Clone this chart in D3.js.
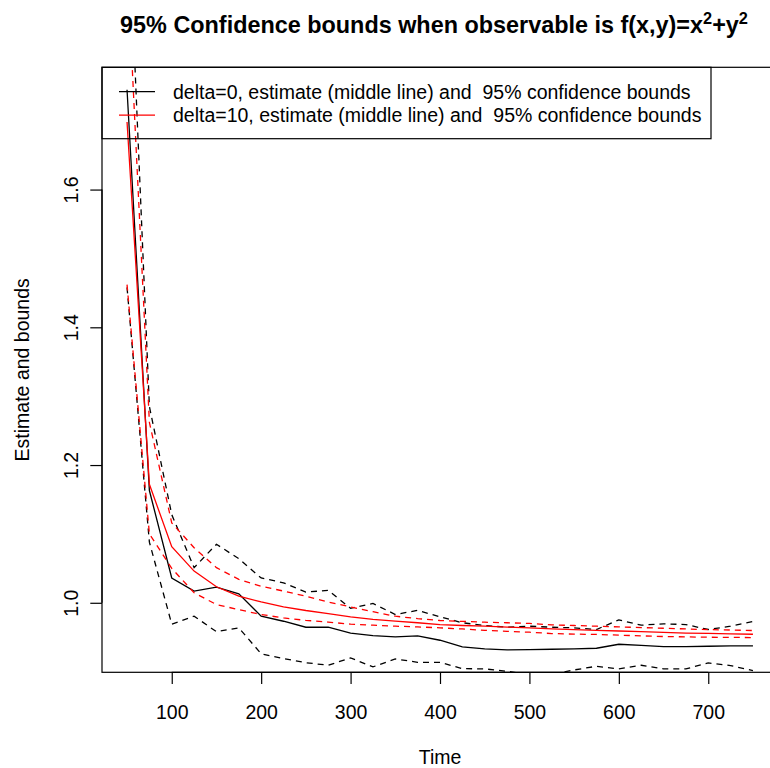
<!DOCTYPE html>
<html><head><meta charset="utf-8">
<script src="https://cdn.jsdelivr.net/npm/d3@7"></script>
<style>
body{margin:0;background:#fff}
svg{display:block}
text{font-family:"Liberation Sans",Arial,Helvetica,sans-serif;fill:#000}
</style>
</head><body>
<svg id="chart" width="770" height="768"></svg>
<script>
// ---- data ----
const times = [50,75,100,125,150,175,200,225,250,275,300,325,350,375,400,425,450,475,500,525,550,575,600,625,650,675,700,725,750];
const est0   = [1.745,1.163,1.036,1.017,1.0227,1.0131,0.9805,0.9732,0.9645,0.9645,0.9558,0.9524,0.9505,0.952,0.9456,0.936,0.9331,0.9316,0.932,0.9325,0.933,0.934,0.9398,0.9383,0.9364,0.9364,0.9369,0.9375,0.9375];
const upper0 = [2.05,1.285,1.128,1.051,1.085,1.064,1.036,1.029,1.0155,1.018,0.992,0.999,0.983,0.989,0.9796,0.971,0.967,0.9645,0.966,0.9645,0.9636,0.9612,0.9752,0.9675,0.9695,0.9684,0.9612,0.966,0.9728];
const lower0 = [1.458,1.088,0.969,0.9805,0.958,0.9636,0.926,0.919,0.913,0.9093,0.92,0.9069,0.9185,0.9136,0.9136,0.9044,0.904,0.9005,0.896,0.896,0.9025,0.9078,0.904,0.9093,0.904,0.904,0.9127,0.9088,0.9015];
const est10   = [1.698,1.172,1.0815,1.046,1.0233,1.0096,1.0012,0.9942,0.9888,0.9844,0.9796,0.976,0.9733,0.971,0.9684,0.967,0.966,0.9648,0.9636,0.962,0.961,0.960,0.959,0.958,0.957,0.956,0.9555,0.955,0.9543];
const upper10 = [1.933,1.262,1.116,1.080,1.051,1.034,1.024,1.017,1.0096,1.001,0.994,0.987,0.9805,0.977,0.9743,0.973,0.9718,0.971,0.970,0.968,0.967,0.966,0.965,0.964,0.963,0.962,0.961,0.9605,0.9597];
const lower10 = [1.462,1.10,1.05,1.0145,0.9975,0.990,0.983,0.978,0.9745,0.972,0.969,0.9675,0.966,0.965,0.9636,0.962,0.960,0.9585,0.9573,0.9553,0.9545,0.954,0.953,0.952,0.951,0.9505,0.950,0.9498,0.9495];
const xTicks = [100,200,300,400,500,600,700];
const yTicks = [1.0,1.2,1.4,1.6];
const legendLabels = ["delta=0, estimate (middle line) and  95% confidence bounds",
                      "delta=10, estimate (middle line) and  95% confidence bounds"];
const seriesColors = ["#000000","#ff0000"];

// ---- layout ----
const P = {left:102, right:778, top:67.3, bottom:672.3};
const FS = 19.5, LINE = FS*1.2, TICK = LINE*0.5;

const svg = d3.select("#chart");
svg.append("rect").attr("width",770).attr("height",768).attr("fill","#fff");

const xr = d3.extent(times), xp = (xr[1]-xr[0])*0.04;
const yr = d3.extent(est0), yp = (yr[1]-yr[0])*0.04;
const x = d3.scaleLinear().domain([xr[0]-xp, xr[1]+xp]).range([P.left, P.right]);
const y = d3.scaleLinear().domain([yr[0]-yp, yr[1]+yp]).range([P.bottom, P.top]);

svg.append("clipPath").attr("id","clip").append("rect")
  .attr("x",P.left).attr("y",P.top).attr("width",P.right-P.left).attr("height",P.bottom-P.top);

const g = svg.append("g").attr("clip-path","url(#clip)");
const line = d3.line().x((d,i)=>x(times[i])).y(d=>y(d));
const series = [
  {v:est0, c:seriesColors[0], dash:null},
  {v:upper0, c:seriesColors[0], dash:"6,5"},
  {v:lower0, c:seriesColors[0], dash:"6,5"},
  {v:est10, c:seriesColors[1], dash:null},
  {v:upper10, c:seriesColors[1], dash:"6,5"},
  {v:lower10, c:seriesColors[1], dash:"6,5"}
];
series.forEach(s=>{
  g.append("path").attr("d",line(s.v)).attr("fill","none")
   .attr("stroke",s.c).attr("stroke-width",1.3)
   .attr("stroke-dasharray",s.dash);
});

// box
svg.append("rect").attr("x",P.left).attr("y",P.top).attr("width",P.right-P.left).attr("height",P.bottom-P.top)
  .attr("fill","none").attr("stroke","#000").attr("stroke-width",1.2);

// x axis
const xa = svg.append("g").attr("transform",`translate(0,${P.bottom})`)
  .call(d3.axisBottom(x).tickValues(xTicks).tickSize(TICK).tickSizeOuter(0).tickFormat(d3.format("d")));
xa.select(".domain").remove();
xa.selectAll(".tick line").attr("stroke","#000").attr("stroke-width",1.2);
xa.selectAll(".tick text").attr("y",46.5).attr("dy",null).attr("font-size",FS)
  .attr("font-family",'"Liberation Sans",Arial,sans-serif').attr("fill","#000");
xa.append("line").attr("x1",x(xTicks[0])).attr("x2",x(xTicks[xTicks.length-1])).attr("stroke","#000").attr("stroke-width",1.2);

// y axis
const ya = svg.append("g").attr("transform",`translate(${P.left},0)`)
  .call(d3.axisLeft(y).tickValues(yTicks).tickSize(TICK).tickSizeOuter(0).tickFormat(d3.format(".1f")));
ya.select(".domain").remove();
ya.selectAll(".tick line").attr("stroke","#000").attr("stroke-width",1.2);
ya.selectAll(".tick text").attr("x",null).attr("dy",null).attr("y",null)
  .attr("transform","translate(-24,0) rotate(-90)").attr("text-anchor","middle")
  .attr("font-size",FS).attr("font-family",'"Liberation Sans",Arial,sans-serif').attr("fill","#000");
ya.append("line").attr("y1",y(yTicks[0])).attr("y2",y(yTicks[yTicks.length-1])).attr("stroke","#000").attr("stroke-width",1.2);

// axis titles
svg.append("text").attr("x",(P.left+P.right)/2).attr("y",764).attr("text-anchor","middle")
  .attr("font-size",FS).text("Time");
svg.append("text").attr("transform",`translate(29,${(P.top+P.bottom)/2}) rotate(-90)`).attr("text-anchor","middle")
  .attr("font-size",FS).text("Estimate and bounds");

// title
const t = svg.append("text").attr("x",434).attr("y",33).attr("text-anchor","middle")
  .attr("font-size",FS*1.2).attr("font-weight","bold");
t.append("tspan").text("95% Confidence bounds when observable is f(x,y)=x");
t.append("tspan").attr("font-size",FS*1.2*0.7).attr("dy",-9).text("2");
t.append("tspan").attr("dy",9).text("+y");
t.append("tspan").attr("font-size",FS*1.2*0.7).attr("dy",-9).text("2");

// legend
const L = svg.append("g");
L.append("rect").attr("x",P.left).attr("y",P.top).attr("width",609).attr("height",71.4)
  .attr("fill","none").attr("stroke","#000").attr("stroke-width",1.2);
legendLabels.forEach((lab,i)=>{
  const cy = P.top + 24.4 + i*LINE;
  L.append("line").attr("x1",119).attr("x2",155).attr("y1",cy).attr("y2",cy)
    .attr("stroke",seriesColors[i]).attr("stroke-width",1.3);
  L.append("text").attr("x",173).attr("y",cy).attr("dy","0.35em").attr("font-size",FS)
    .style("white-space","pre").attr("xml:space","preserve").text(lab);
});
</script>
</body></html>
